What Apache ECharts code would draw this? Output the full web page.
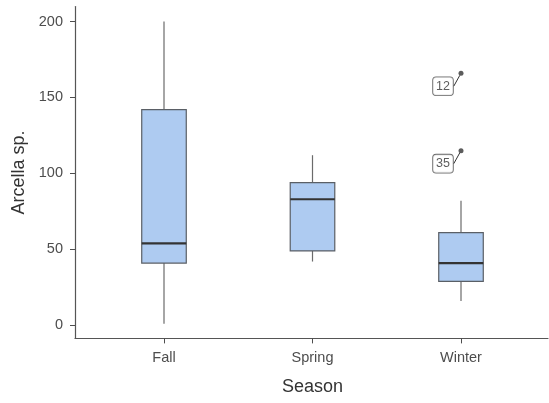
<!DOCTYPE html>
<html>
<head>
<meta charset="utf-8">
<script src="https://cdn.jsdelivr.net/npm/echarts@6/dist/echarts.min.js"></script>
<style>
  html, body { margin: 0; padding: 0; background: #fff; }
  #chart { width: 549px; height: 403px; }
</style>
</head>
<body>
<div id="chart"></div>
<script>
// Seasons on the x axis
const seasons = ['Fall', 'Spring', 'Winter'];
// Box statistics per season: lower whisker, Q1, median, Q3, upper whisker
const lowerWhisker = [1, 42, 16];
const q1 = [41, 49, 29];
const median = [54, 83, 41];
const q3 = [142, 94, 61];
const upperWhisker = [200, 112, 82];
// Outlying samples: season, value, sample id
const outlierSeason = ['Winter', 'Winter'];
const outlierValue = [166, 115];
const outlierId = ['12', '35'];
// Y tick values
const yTicks = [0, 50, 100, 150, 200];

const yMin = -8.6, yMax = 209.9;
const font = 'Liberation Sans, Arial, sans-serif';

const boxData = seasons.map((s, i) => [i, lowerWhisker[i], q1[i], median[i], q3[i], upperWhisker[i]]);
const outlierData = outlierValue.map((v, i) => ({ value: [outlierSeason[i], v], name: outlierId[i] }));

function renderBox(params, api) {
  const c = api.value(0);
  const lo = api.coord([c, api.value(1)]);
  const b1 = api.coord([c, api.value(2)]);
  const md = api.coord([c, api.value(3)]);
  const b3 = api.coord([c, api.value(4)]);
  const hi = api.coord([c, api.value(5)]);
  const w = api.size([1, 0])[0] * 0.3;
  const x = lo[0];
  return {
    type: 'group',
    children: [
      { type: 'line', shape: { x1: x, y1: hi[1], x2: x, y2: b3[1] }, style: { stroke: '#6b6b6b', lineWidth: 1.2 } },
      { type: 'line', shape: { x1: x, y1: b1[1], x2: x, y2: lo[1] }, style: { stroke: '#6b6b6b', lineWidth: 1.2 } },
      { type: 'rect', shape: { x: x - w / 2, y: b3[1], width: w, height: b1[1] - b3[1] },
        style: { fill: '#aecbf1', stroke: '#5a5f66', lineWidth: 1.2 } },
      { type: 'line', shape: { x1: x - w / 2, y1: md[1], x2: x + w / 2, y2: md[1] }, style: { stroke: '#333', lineWidth: 2.2 } }
    ]
  };
}

const chart = echarts.init(document.getElementById('chart'), null, { renderer: 'canvas' });
chart.setOption({
  animation: false,
  backgroundColor: '#fff',
  grid: [
    { left: 89.75, width: 445.5, top: 6.5, bottom: 64.6 },
    { left: 75, right: 1, top: 6.5, bottom: 64.6 }
  ],
  xAxis: [
    {
      type: 'category', data: seasons, gridIndex: 0,
      name: 'Season', nameLocation: 'middle', nameGap: 40,
      nameTextStyle: { fontFamily: font, fontSize: 18, color: '#333' },
      axisLine: { show: false, onZero: false },
      axisTick: { show: true, alignWithLabel: true, length: 5, lineStyle: { color: '#4d4d4d', width: 1 } },
      axisLabel: { fontFamily: font, fontSize: 14.5, color: '#4d4d4d', margin: 12 },
      splitLine: { show: false }
    },
    {
      type: 'value', gridIndex: 1, min: 0, max: 1,
      axisLine: { show: true, onZero: false, lineStyle: { color: '#555', width: 1.2 } },
      axisTick: { show: false }, axisLabel: { show: false }, splitLine: { show: false }
    }
  ],
  yAxis: [
    { type: 'value', gridIndex: 0, min: yMin, max: yMax, show: false },
    {
      type: 'value', gridIndex: 1, min: yMin, max: yMax,
      name: 'Arcella sp.', nameLocation: 'middle', nameRotate: 90, nameGap: 45.5,
      nameTextStyle: { fontFamily: font, fontSize: 18, color: '#333' },
      axisLine: { show: true, onZero: false, lineStyle: { color: '#555', width: 1.2 } },
      axisTick: { show: true, length: 5, customValues: yTicks, lineStyle: { color: '#4d4d4d' } },
      axisLabel: { fontFamily: font, fontSize: 14.5, color: '#4d4d4d', margin: 12, customValues: yTicks },
      splitLine: { show: false }
    }
  ],
  series: [
    {
      type: 'custom', xAxisIndex: 0, yAxisIndex: 0,
      renderItem: renderBox,
      encode: { x: 0, y: [1, 2, 3, 4, 5] },
      data: boxData
    },
    {
      type: 'scatter', xAxisIndex: 0, yAxisIndex: 0,
      symbolSize: 5,
      itemStyle: { color: '#333' },
      data: outlierData,
      label: {
        show: true, formatter: '{b}', position: 'inside',
        fontFamily: font, fontSize: 12.5, color: '#333',
        backgroundColor: '#fff', borderColor: '#444', borderWidth: 0.8, borderRadius: 3,
        padding: [3, 3, 2, 3]
      },
      labelLayout: { dx: -18, dy: 13 },
      labelLine: { show: true, lineStyle: { color: '#333', width: 1 } }
    }
  ]
});
</script>
</body>
</html>
